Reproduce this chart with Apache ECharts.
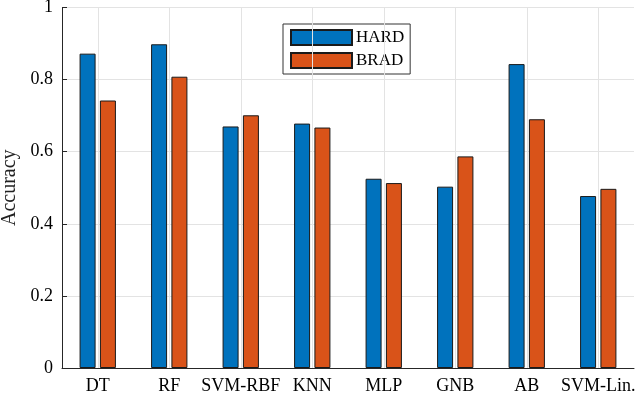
<!DOCTYPE html>
<html>
<head>
<meta charset="utf-8">
<script src="https://cdn.jsdelivr.net/npm/echarts@6/dist/echarts.min.js"></script>
<style>html,body{margin:0;padding:0;background:#fff}#c{width:640px;height:398px}</style>
</head>
<body>
<div id="c"></div>
<script>
var categories = ['DT', 'RF', 'SVM-RBF', 'KNN', 'MLP', 'GNB', 'AB', 'SVM-Lin.'];
var hard = [0.872, 0.898, 0.670, 0.678, 0.525, 0.503, 0.843, 0.477];
var brad = [0.742, 0.808, 0.701, 0.667, 0.513, 0.587, 0.690, 0.497];
var yTicks = [0, 0.2, 0.4, 0.6, 0.8, 1];

var FONT = 'Liberation Serif';
var richT = {t: {fontFamily: FONT, fontSize: 18, color: '#000'}};
var chart = echarts.init(document.getElementById('c'), null, {renderer: 'canvas'});
chart.setOption({
  animation: false,
  backgroundColor: '#fff',
  textStyle: {fontFamily: FONT},
  grid: {left: 62, right: 6, top: 7.5, bottom: 30, containLabel: false, outerBoundsMode: 'none'},
  legend: {
    orient: 'vertical', left: 283, top: 24,
    padding: [5, 6, 5, 7], itemGap: 6, itemWidth: 61, itemHeight: 15,
    borderColor: '#333', borderWidth: 1, backgroundColor: '#fff',
    icon: 'rect',
    textStyle: {fontFamily: FONT, fontSize: 17, color: '#000', padding: [0, 0, 0, -1]},
    data: ['HARD', 'BRAD']
  },
  xAxis: {
    type: 'category', data: categories,
    axisLine: {lineStyle: {color: '#262626', width: 1}},
    axisTick: {show: true, inside: true, length: 4, alignWithLabel: true, lineStyle: {color: '#555'}},
    axisLabel: {fontFamily: FONT, fontSize: 18, color: '#000', margin: 9, interval: 0,
      formatter: function (v) { return '{t|' + v + '}'; }, rich: richT},
    splitLine: {show: false}
  },
  yAxis: {
    type: 'value', min: 0, max: 1, interval: 0.2,
    name: 'Accuracy', nameLocation: 'middle', nameGap: 42, nameRotate: 90,
    nameTextStyle: {fontFamily: FONT, fontSize: 20, color: '#222'},
    axisLine: {show: true, lineStyle: {color: '#262626', width: 1}},
    axisTick: {show: true, inside: true, length: 5, lineStyle: {color: '#262626'}},
    axisLabel: {fontFamily: FONT, fontSize: 18, color: '#000', margin: 9, rich: richT,
      formatter: function (v) { return yTicks.indexOf(v) >= 0 ? '{t|' + v + '}' : ''; }},
    splitLine: {show: true, lineStyle: {color: '#e3e3e3', width: 1}}
  },
  series: [
    {name: 'HARD', type: 'bar', data: hard, barWidth: 16, barGap: '27%',
      itemStyle: {color: '#0072BD', borderColor: '#1a1a1a', borderWidth: 1}, z: 3},
    {name: 'BRAD', type: 'bar', data: brad, barWidth: 16, barGap: '27%',
      itemStyle: {color: '#D95319', borderColor: '#1a1a1a', borderWidth: 1}, z: 3},
    {name: 'grid-v', type: 'line', data: [], z: 1, silent: true,
      markLine: {silent: true, symbol: 'none', label: {show: false}, animation: false,
        lineStyle: {color: '#e3e3e3', width: 1, type: 'solid'},
        data: categories.map(function (c) { return {xAxis: c}; })}}
  ]
});
</script>
</body>
</html>
